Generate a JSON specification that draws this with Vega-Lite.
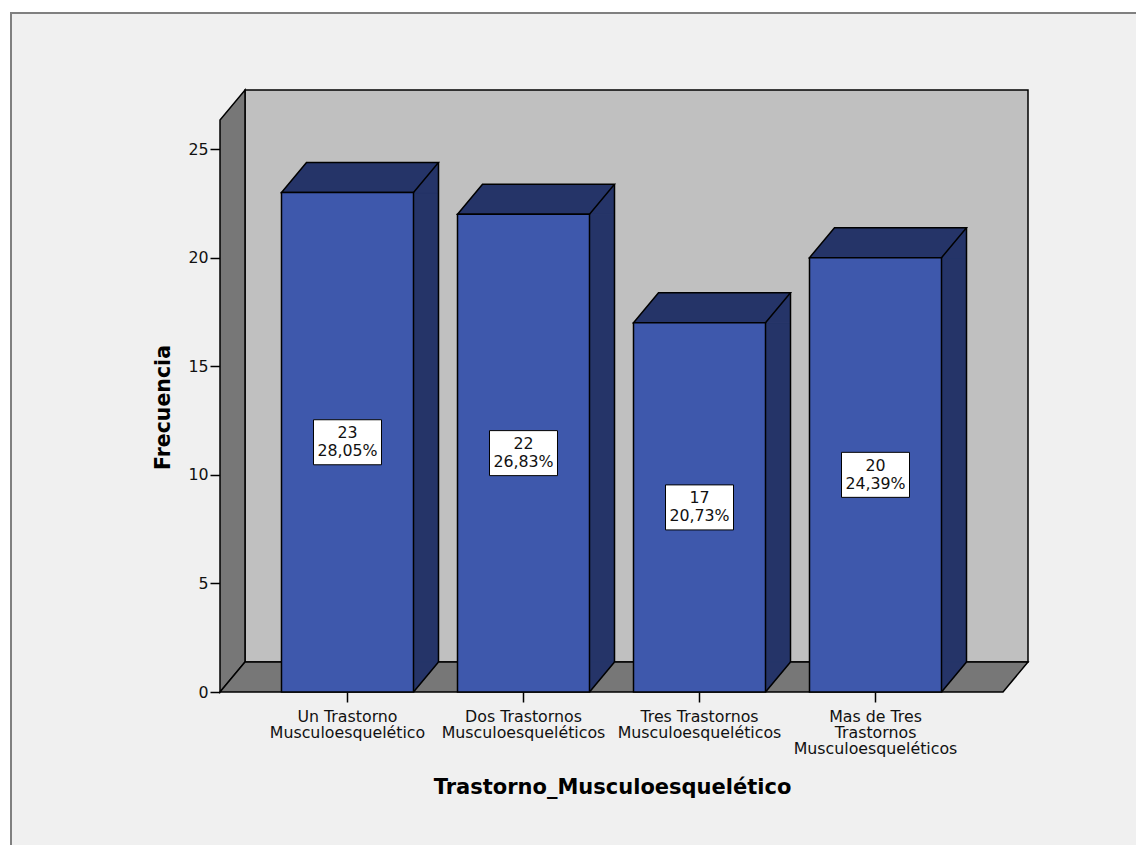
{
  "$schema": "https://vega.github.io/schema/vega-lite/v6.json",
  "width": 1125,
  "height": 832,
  "autosize": "none",
  "padding": {"left": 11, "top": 13, "right": 0, "bottom": 0},
  "background": "#ffffff",
  "config": {
    "view": {"fill": "#f0f0f0", "stroke": "#808080", "strokeWidth": 2, "strokeDash": [1125, 1957, 840, 10]},
    "font": "DejaVu Sans",
    "axis": {"labelFont": "DejaVu Sans", "titleFont": "DejaVu Sans"}
  },
  "data": {
    "values": [
      {"trastorno": "Un Trastorno Musculoesquelético", "n": 23, "pct": "28,05%"},
      {"trastorno": "Dos Trastornos Musculoesqueléticos", "n": 22, "pct": "26,83%"},
      {"trastorno": "Tres Trastornos Musculoesqueléticos", "n": 17, "pct": "20,73%"},
      {"trastorno": "Mas de Tres Trastornos Musculoesqueléticos", "n": 20, "pct": "24,39%"}
    ]
  },
  "layer": [
    {
      "data": {"values": [{}]},
      "encoding": {
        "x": {"datum": 0, "type": "quantitative", "scale": {"domain": [0, 1], "range": [209, 992]}, "axis": null},
        "y": {"datum": 0, "type": "quantitative", "scale": {"domain": [0, 26.34], "range": [679, 107], "nice": false}, "axis": null}
      },
      "layer": [
        {
          "mark": {"type": "rect", "fill": "#c0c0c0", "stroke": "#000000", "strokeWidth": 1.5,
                   "xOffset": 25, "x2Offset": 25, "yOffset": -30, "y2Offset": -30},
          "encoding": {"x2": {"datum": 1}, "y2": {"datum": 26.34}}
        },
        {
          "mark": {"type": "point", "shape": "M0,0L0,-11.44L0.5,-12.04L0.5,-0.6Z", "size": 10000,
                   "filled": true, "fill": "#777777", "stroke": "#000000", "strokeWidth": 1.5, "opacity": 1}
        },
        {
          "mark": {"type": "point", "shape": "M0,0L15.66,0L16.16,-0.6L0.5,-0.6Z", "size": 10000,
                   "filled": true, "fill": "#777777", "stroke": "#000000", "strokeWidth": 1.5, "opacity": 1}
        }
      ]
    },
    {
      "encoding": {
        "x": {
          "field": "trastorno", "type": "nominal", "sort": null,
          "scale": {"type": "band", "range": [209, 992], "paddingInner": 0.25, "paddingOuter": 0.3494},
          "axis": {
            "orient": "bottom", "offset": -153, "domain": false, "grid": false,
            "tickSize": 10, "tickColor": "#000000", "tickWidth": 1.5,
            "labelAngle": 0, "labelPadding": 7, "labelFontSize": 15.8, "labelLineHeight": 16,
            "labelColor": "#111111", "labelLimit": 0, "labelBaseline": "top",
            "labelExpr": "split(replace(replace(datum.value, ' Musculo', '|Musculo'), 'de Tres Trastornos|', 'de Tres|Trastornos|'), '|')",
            "title": "Trastorno_Musculoesquelético", "titleFontSize": 21, "titleFontWeight": "bold",
            "titleColor": "#000000", "titleX": 601, "titleY": 101, "titleAlign": "center", "titleBaseline": "alphabetic"
          }
        },
        "y": {
          "field": "n", "type": "quantitative",
          "scale": {"domain": [0, 26.34], "range": [679, 107], "nice": false, "zero": true},
          "axis": {
            "orient": "left", "offset": -209, "values": [0, 5, 10, 15, 20, 25], "domain": false, "grid": false,
            "tickSize": 10, "tickColor": "#000000", "tickWidth": 1.5, "labelPadding": 2,
            "labelFontSize": 15.8, "labelColor": "#111111",
            "title": "Frecuencia", "titleFontSize": 20.5, "titleFontWeight": "bold", "titleColor": "#000000",
            "titleX": -51, "titleY": 394, "titleAngle": -90, "titleAlign": "center", "titleBaseline": "alphabetic"
          }
        }
      },
      "layer": [
        {
          "mark": {"type": "bar", "width": 25, "xOffset": 78.5, "y2Offset": -30,
                   "fill": "#253468", "stroke": "#253468", "strokeWidth": 1},
          "encoding": {"y2": {"datum": 0}}
        },
        {
          "mark": {"type": "point", "shape": "M1,0L1.3788,-0.4545L1.3788,0Z", "size": 17424,
                   "filled": true, "fill": "#253468", "stroke": "#253468", "strokeWidth": 1, "opacity": 1}
        },
        {
          "mark": {"type": "point", "shape": "M1,-0.4545L1,0L1.3788,-0.4545Z", "size": 17424,
                   "filled": true, "fill": "#253468", "stroke": "#253468", "strokeWidth": 1, "opacity": 1},
          "encoding": {"y": {"datum": 0}}
        },
        {
          "mark": {"type": "rule", "xOffset": 91, "yOffset": -30, "y2Offset": -30,
                   "stroke": "#000000", "strokeWidth": 1.5},
          "encoding": {"y2": {"datum": 0}}
        },
        {
          "mark": {"type": "point", "shape": "M1,0L1.3788,-0.4545", "size": 17424,
                   "filled": false, "stroke": "#000000", "strokeWidth": 1.5, "opacity": 1},
          "encoding": {"y": {"datum": 0}}
        },
        {
          "mark": {"type": "point", "shape": "M-1,0L1,0L1.3788,-0.4545L-0.6212,-0.4545Z", "size": 17424,
                   "filled": true, "fill": "#253468", "stroke": "#000000", "strokeWidth": 1.5, "opacity": 1}
        },
        {
          "mark": {"type": "bar", "fill": "#3e58ac", "stroke": "#000000", "strokeWidth": 1.5}
        }
      ]
    },
    {
      "encoding": {
        "x": {
          "field": "trastorno", "type": "nominal", "sort": null,
          "scale": {"type": "band", "range": [209, 992], "paddingInner": 0.25, "paddingOuter": 0.3494},
          "axis": null
        },
        "y": {
          "field": "n", "type": "quantitative",
          "scale": {"domain": [0, 52.68], "range": [679, 107], "nice": false, "zero": true},
          "axis": null
        }
      },
      "layer": [
        {
          "mark": {"type": "point", "shape": "M-1,-0.662L1,-0.662L1,0.662L-1,0.662Z", "size": 4624,
                   "filled": true, "fill": "#ffffff", "stroke": "#000000", "strokeWidth": 1, "opacity": 1}
        },
        {
          "mark": {"type": "text", "dy": -9, "baseline": "middle", "align": "center",
                   "fontSize": 15.8, "font": "DejaVu Sans", "color": "#111111"},
          "encoding": {"text": {"field": "n", "type": "quantitative"}}
        },
        {
          "mark": {"type": "text", "dy": 9, "baseline": "middle", "align": "center",
                   "fontSize": 15.8, "font": "DejaVu Sans", "color": "#111111"},
          "encoding": {"text": {"field": "pct", "type": "nominal"}}
        }
      ]
    }
  ],
  "resolve": {"scale": {"x": "independent", "y": "independent"}}
}
